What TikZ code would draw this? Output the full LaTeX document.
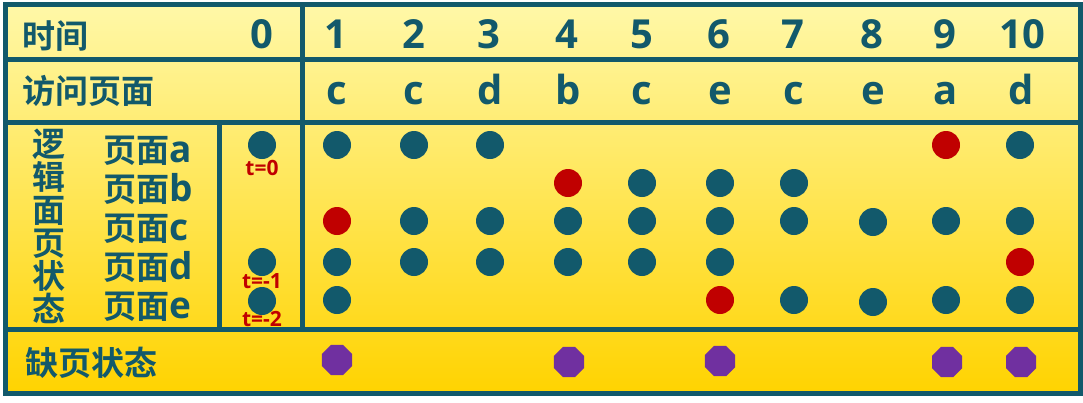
\documentclass[tikz,border=0pt]{standalone}
\usepackage{fontspec}
\usepackage{tikz}
\usetikzlibrary{shapes.geometric}
\setmainfont{Open Sans}
\newfontfamily\cjk{Noto Sans CJK SC}[BoldFont={Noto Sans CJK SC Bold}]
\definecolor{rim}{HTML}{12596B}
\definecolor{hit}{HTML}{C00000}
\definecolor{miss}{HTML}{7030A0}
\definecolor{paletop}{HTML}{FFF8A8}
\definecolor{goldbot}{HTML}{FFD300}
\tikzset{
  page/.style={circle,fill=rim,inner sep=0pt,minimum size=28pt},
  newpage/.style={page,fill=hit},
  fault/.style={regular polygon,regular polygon sides=8,fill=miss,inner sep=0pt,minimum size=32.5pt},
  num/.style={anchor=base,text=rim,font=\bfseries\fontsize{40}{40}\selectfont},
  hz/.style={anchor=base west,text=rim,font=\cjk\bfseries\fontsize{33}{33}\selectfont},
  tag/.style={anchor=base,text=hit,font=\bfseries\fontsize{21}{21}\selectfont}
}
\newcommand{\lat}[1]{{\rmfamily\fontsize{37}{37}\selectfont #1}}

\begin{document}
\begin{tikzpicture}[x=1pt,y=-1pt]
% everything is measured in pixels of the 1083x402 page, y runs downwards
\useasboundingbox (0,0) rectangle (1083,402);
% The yellow background and the frame
\shade[top color=paletop,bottom color=goldbot] (5,4) rectangle (1080.5,393.5);
\draw[rim,line width=5pt] (5,4) rectangle (1080.5,393.5);
% The grid lines
\draw[rim,line width=5pt] (5,59.2) -- (1080.5,59.2);
\draw[rim,line width=5pt] (5,122.5) -- (1080.5,122.5);
\draw[rim,line width=5pt] (5,329.2) -- (1080.5,329.2);
\draw[rim,line width=5pt] (302.5,4) -- (302.5,329.2);
\draw[rim,line width=5pt] (219.8,122.5) -- (219.8,329.2);
% Time row
\node[hz] (time) at (19,48) {时间};
\node[num] (h0) at (262,48) {0};
\node[num] (h1) at (336,48) {1}; \node[num] (h2) at (414,48) {2}; \node[num] (h3) at (489,48) {3};
\node[num] (h4) at (567,48) {4}; \node[num] (h5) at (642,48) {5}; \node[num] (h6) at (719,48) {6};
\node[num] (h7) at (793,48) {7}; \node[num] (h8) at (872,48) {8}; \node[num] (h9) at (945,48) {9};
\node[num] (h10) at (1022,48) {10};
% Visited pages
\node[hz] (visit) at (19,103) {访问页面};
\node[num] (v1) at (337,104) {c}; \node[num] (v2) at (414,104) {c}; \node[num] (v3) at (490,104) {d};
\node[num] (v4) at (568,104) {b}; \node[num] (v5) at (642,104) {c}; \node[num] (v6) at (720,104) {e};
\node[num] (v7) at (794,104) {c}; \node[num] (v8) at (873,104) {e}; \node[num] (v9) at (946,104) {a};
\node[num] (v10) at (1021,104) {d};
% Logical page state
\node[text=rim,font=\cjk\bfseries\fontsize{33}{33}\selectfont,align=center,inner sep=0pt] (state) at (49,226.5) {逻\\辑\\面\\页\\状\\态};
\node[hz] (pa) at (100,162) {页面\lat{a}};
\node[hz] (pb) at (100,201) {页面\lat{b}};
\node[hz] (pc) at (100,240) {页面\lat{c}};
\node[hz] (pd) at (100,279) {页面\lat{d}};
\node[hz] (pe) at (100,318) {页面\lat{e}};
% Column 0 with the ages of the loaded pages
\node[page] (a0) at (262,145) {}; \node[tag] (ta) at (262,175) {t=0};
\node[page] (d0) at (262,262) {}; \node[tag] (td) at (262,288) {t=-1};
\node[page] (e0) at (262,301) {}; \node[tag] (te) at (262,326) {t=-2};
% Page a
\node[page] (a1) at (337,145) {}; \node[page] (a2) at (414,145) {}; \node[page] (a3) at (490,145) {};
\node[newpage] (a9) at (946,145) {}; \node[page] (a10) at (1020,145) {};
% Page b
\node[newpage] (b4) at (568,183) {}; \node[page] (b5) at (642,183) {};
\node[page] (b6) at (720,183) {}; \node[page] (b7) at (794,183) {};
% Page c
\node[newpage] (c1) at (337,221) {}; \node[page] (c2) at (414,221) {}; \node[page] (c3) at (490,221) {};
\node[page] (c4) at (568,221) {}; \node[page] (c5) at (642,221) {}; \node[page] (c6) at (720,221) {};
\node[page] (c7) at (794,221) {}; \node[page] (c8) at (873,222) {}; \node[page] (c9) at (946,221) {};
\node[page] (c10) at (1020,221) {};
% Page d
\node[page] (d1) at (337,262) {}; \node[page] (d2) at (414,262) {}; \node[page] (d3) at (490,262) {};
\node[page] (d4) at (568,262) {}; \node[page] (d5) at (642,262) {}; \node[page] (d6) at (720,262) {};
\node[newpage] (d10) at (1020,262) {};
% Page e
\node[page] (e1) at (337,300) {}; \node[newpage] (e6) at (720,300) {}; \node[page] (e7) at (794,300) {};
\node[page] (e8) at (873,302) {}; \node[page] (e9) at (946,300) {}; \node[page] (e10) at (1020,300) {};
% Page faults
\node[hz] (miss) at (22,375) {缺页状态};
\node[fault] (f1) at (337,360) {}; \node[fault] (f4) at (569,362) {}; \node[fault] (f6) at (720,361) {};
\node[fault] (f9) at (947,362) {}; \node[fault] (f10) at (1021,362) {};
\end{tikzpicture}
\end{document}
